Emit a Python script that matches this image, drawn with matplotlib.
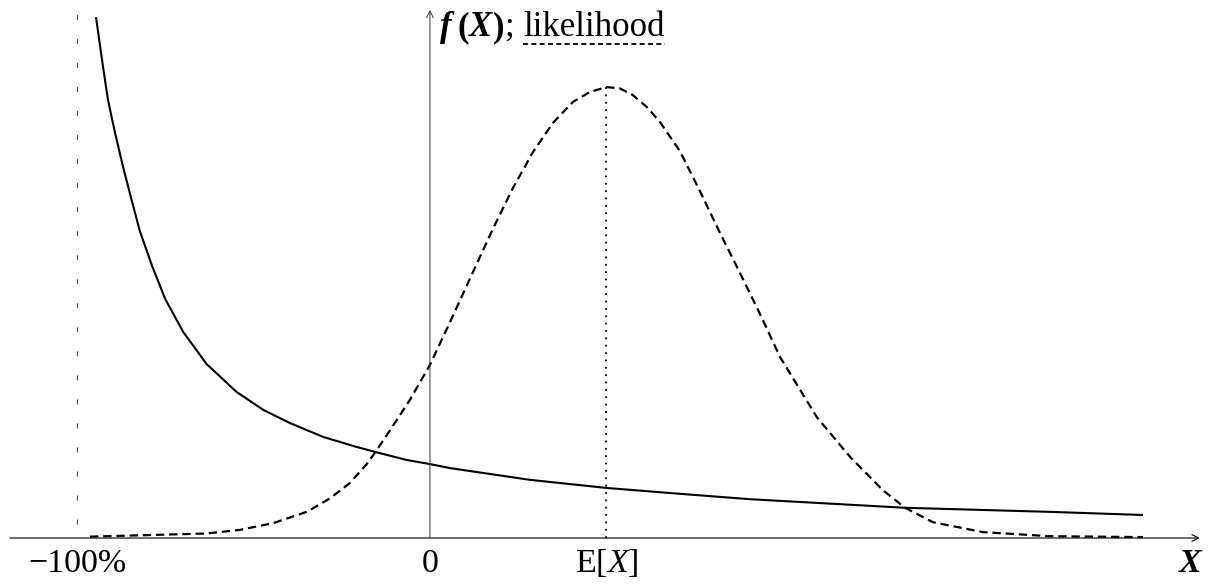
import matplotlib
matplotlib.use('Agg')
import matplotlib.pyplot as plt

plt.rcParams['font.family'] = ['Liberation Serif', 'DejaVu Serif']
plt.rcParams['mathtext.fontset'] = 'custom'
plt.rcParams['mathtext.rm'] = 'Liberation Serif'
plt.rcParams['mathtext.it'] = 'Liberation Serif:italic'
plt.rcParams['mathtext.bf'] = 'Liberation Serif:bold'
plt.rcParams['lines.scale_dashes'] = False

# return X in percent, heights scaled so the likelihood peak is 1
payoff_x = [-94.6, -92.6, -91.2, -89.2, -87.0, -84.6, -82.2, -78.8, -75.0, -69.9,
            -63.3, -54.8, -47.2, -39.7, -30.2, -20.8, -15.6, -6.6, 0.0, 5.7,
            28.3, 50.0, 70.8, 90.7, 134.6, 175.6, 202.0]
payoff_y = [1.155, 1.044, 0.971, 0.898, 0.825, 0.752, 0.681, 0.605, 0.530, 0.457,
            0.386, 0.324, 0.284, 0.255, 0.224, 0.202, 0.191, 0.173, 0.164, 0.155,
            0.129, 0.111, 0.098, 0.086, 0.067, 0.058, 0.051]

lik_x = [-96.3, -77.4, -63.3, -53.8, -44.4, -34.9, -28.3, -22.7, -17.9, -15.6,
         -11.3, -5.7, 0.0, 5.7, 12.2, 17.8, 23.5, 29.2, 34.8, 40.5,
         45.3, 50.0, 53.8, 57.5, 61.4, 65.2, 70.8, 76.5, 82.2, 87.8,
         93.5, 99.2, 109.6, 119.0, 128.3, 134.6, 142.5, 156.7, 175.6, 202.0]
lik_y = [0.003, 0.007, 0.010, 0.018, 0.033, 0.058, 0.088, 0.122, 0.164, 0.189,
         0.239, 0.306, 0.384, 0.479, 0.590, 0.685, 0.776, 0.856, 0.920, 0.967,
         0.989, 1.000, 0.997, 0.982, 0.956, 0.922, 0.858, 0.769, 0.676, 0.588,
         0.497, 0.401, 0.268, 0.180, 0.106, 0.067, 0.035, 0.013, 0.004, 0.002]

ruin_x = -100
mean_x = 50
tick_pos = [-100, 0, 50]
tick_txt = ['\u2212100%', '0', r'$\mathrm{E}[X]$']

fig = plt.figure(figsize=(12.15, 5.84), dpi=100)
ax = fig.add_axes([0, 0, 1, 1])
ax.axis('off')
ax.set_xlim(-121.8, 222.4)
ax.set_ylim(-0.102, 1.193)

# axes with arrow heads
ax.annotate('', xy=(218.1, 0), xytext=(-119.0, 0),
            arrowprops=dict(arrowstyle='->', lw=0.8, color='k', shrinkA=0, shrinkB=0, mutation_scale=12))
ax.annotate('', xy=(0, 1.171), xytext=(0, 0),
            arrowprops=dict(arrowstyle='->', lw=0.7, color='#333333', shrinkA=0, shrinkB=0, mutation_scale=12))

ax.plot([ruin_x, ruin_x], [0.031, 1.162], color='#555555', lw=0.8, dashes=(3.6, 13.7))
ax.plot([mean_x, mean_x], [0, 1.0], color='k', lw=1.3, dashes=(1.3, 4.0))

ax.plot(payoff_x, payoff_y, color='k', lw=1.5, solid_capstyle='butt', solid_joinstyle='round')
ax.plot(lik_x, lik_y, color='k', lw=1.6, dashes=(6.0, 3.5), dash_joinstyle='round')

fs = 24.5
for p, s in zip(tick_pos, tick_txt):
    ax.text(p, -0.0754, s, ha='center', va='baseline', fontsize=fs)
ax.text(218.5, -0.0754, 'X', ha='right', va='baseline', fontsize=fs,
        fontweight='bold', fontstyle='italic')

# header: f(X); likelihood  (likelihood underlined dashed)
fig.canvas.draw()
r = fig.canvas.get_renderer()
hfs = 25
pieces = [('f', 'bold', 'italic', 6), ('(', 'bold', 'normal', 0), ('X', 'bold', 'italic', 1),
          (')', 'bold', 'normal', 0), (';', 'normal', 'normal', 9),
          ('likelihood', 'normal', 'normal', 0)]
x = 2.8
base = 1.113
for s, w, st, gap in pieces:
    t = ax.text(x, base, s, ha='left', va='baseline', fontsize=hfs, fontweight=w, fontstyle=st)
    wpx = t.get_window_extent(r).width
    x0 = x
    x = x + (wpx + gap) / 3.53
ax.plot([x0, x], [1.095, 1.095], color='k', lw=1.3, dashes=(3.6, 2.4))

fig.savefig('out.png', dpi=100)
